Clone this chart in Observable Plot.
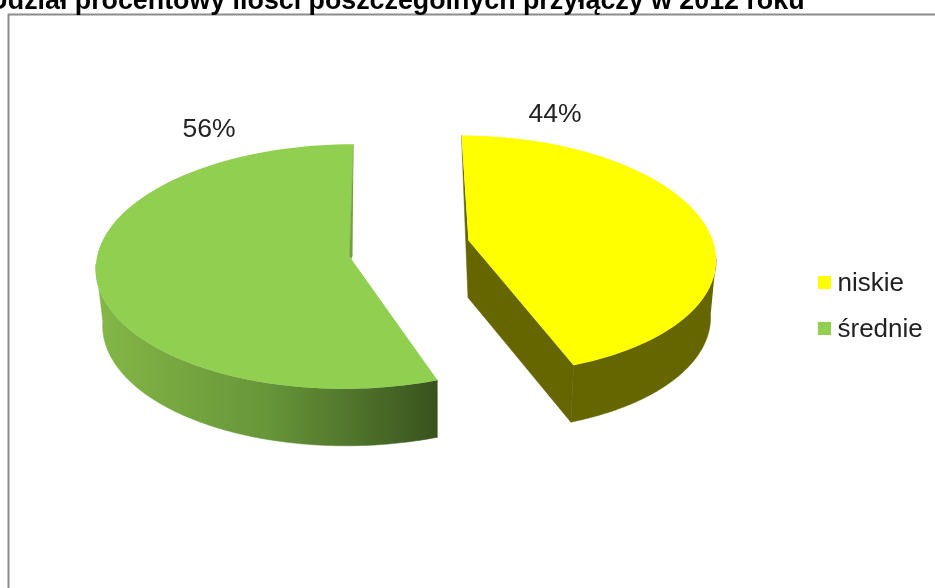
<!DOCTYPE html>
<html>
<head>
<meta charset="utf-8">
<style>
html,body{margin:0;padding:0;background:#fff;overflow:hidden}
svg{display:block;filter:blur(0.35px)}
</style>
<script src="https://cdn.jsdelivr.net/npm/d3@7"></script>
<script src="https://cdn.jsdelivr.net/npm/@observablehq/plot@0.6"></script>
</head>
<body>
<div id="chart"></div>
<script>
const title = "Udział procentowy ilości poszczególnych przyłączy w 2012 roku";
const categories = ["niskie", "średnie"];
const shares = [44, 56];
const colors = ["#FFFF00", "#90CF50"];

// Perspective projection of each exploded slice (layout, not data)
const view = {
  "niskie":  {cx: 472.8, cy: 254, rx: 242.5, ry: 119, a: 11.8, apex: [468, 240], sideFrom: 92, sideTo: 158.4},
  "średnie": {cx: 348.3, cy: 266, rx: 253, ry: 122.3, a: -4.7, apex: [349, 256], sideFrom: 158.4, sideTo: 271}
};
const depth = 57, shrink = 0.98, vanishX = 440;
const rad = d => d * Math.PI / 180;
const onRim = (g, deg) => [
  g.cx + g.rx * Math.sin(rad(deg)) - g.a * Math.cos(rad(deg)),
  g.cy - g.ry * Math.cos(rad(deg))
];
const drop = ([x, y]) => [vanishX + shrink * (x - vanishX), y + depth];
const arc = (g, a0, a1) => d3.range(0, 101).map(i => onRim(g, a0 + (a1 - a0) * i / 100));

// slice angles come from the shares
let acc = 0;
const slices = categories.map((c, i) => {
  const a0 = acc / 100 * 360; acc += shares[i];
  return {category: c, share: shares[i], a0, a1: acc / 100 * 360, g: view[c]};
});

const poly = (pts, extra = {}) => pts.map(p => ({x: p[0], y: p[1], ...extra}));
const face = (pts, fill) => Plot.line(poly(pts), {x: "x", y: "y", fill, stroke: fill, strokeWidth: 0.5});

const [yel, grn] = slices;
const yelTop = [yel.g.apex, ...arc(yel.g, yel.a0, yel.a1)];
const grnTop = [grn.g.apex, ...arc(grn.g, grn.a0, grn.a1)];

const yelSide = [...arc(yel.g, yel.g.sideFrom, yel.g.sideTo), ...arc(yel.g, yel.g.sideFrom, yel.g.sideTo).map(drop).reverse()];
const grnSide = [...arc(grn.g, grn.g.sideFrom, grn.g.sideTo), ...arc(grn.g, grn.g.sideFrom, grn.g.sideTo).map(drop).reverse()];

const yelStart = onRim(yel.g, yel.a0), yelEnd = onRim(yel.g, yel.a1);
const yelInner = [yelStart, drop(yel.g.apex), drop(yelEnd), yelEnd, yel.g.apex];
const grnStart = onRim(grn.g, grn.a1);
const grnInner = [grnStart, grn.g.apex, [grn.g.apex[0] + 2, grn.g.apex[1] + 2], [grnStart[0] - 1, grnStart[1] + 110]];

const legendX = 818, legendSw = 13;
const legendRows = categories.map((c, i) => ({category: c, y: 276 + i * 46}));

const gradient = () => {
  const s = d3.create("svg:defs");
  const g = s.append("linearGradient").attr("id", "sideGreen")
    .attr("gradientUnits", "userSpaceOnUse")
    .attr("x1", 100).attr("x2", 437).attr("y1", 0).attr("y2", 0);
  [[0, "#83B646"], [0.5, "#679539"], [0.8, "#4B6E29"], [1, "#39521D"]].forEach(([o, c]) =>
    g.append("stop").attr("offset", o).attr("stop-color", c));
  return s.node();
};

const chart = Plot.plot({
  width: 935, height: 588,
  margin: 0,
  style: {background: "#fff", overflow: "hidden"},
  x: {domain: [0, 935], range: [0, 935], axis: null},
  y: {domain: [0, 588], range: [0, 588], axis: null},
  color: {domain: categories, range: colors},
  marks: [
    gradient,
    Plot.ruleX([8], {y1: 14, y2: 588, stroke: "#8c8c8c", strokeWidth: 2}),
    Plot.ruleY([14], {x1: 8, x2: 935, stroke: "#8c8c8c", strokeWidth: 2}),
    face(yelInner, "#666600"),
    face(yelSide, "#666600"),
    face(grnSide, "url(#sideGreen)"),
    Plot.line(poly(yelTop, {category: yel.category}), {x: "x", y: "y", fill: "category", stroke: "none"}),
    Plot.line(poly(grnTop, {category: grn.category}), {x: "x", y: "y", fill: "category", stroke: "none"}),
    face(grnInner, "#739F3E"),
    Plot.text(slices, {
      x: d => d.category === "niskie" ? 554.5 : 208.5,
      y: d => d.category === "niskie" ? 113 : 128,
      text: d => d.share + "%",
      fontFamily: "Liberation Sans", fontSize: 26.5, fill: "#222", textAnchor: "middle", lineAnchor: "middle"
    }),
    Plot.rect(legendRows, {
      x1: () => legendX, x2: () => legendX + legendSw,
      y1: "y", y2: d => d.y + legendSw, fill: "category", inset: 0
    }),
    Plot.text(legendRows, {
      x: () => 837, y: d => d.y + 6.5, text: "category",
      fontFamily: "Liberation Sans", fontSize: 26, fill: "#222", textAnchor: "start", lineAnchor: "middle"
    }),
    Plot.text([title], {
      x: () => 804, y: () => 0, text: d => d,
      fontFamily: "Liberation Sans", fontWeight: "bold", fontSize: 26.8, fill: "#000", textAnchor: "end", lineAnchor: "middle"
    })
  ]
});
document.getElementById("chart").append(chart);
</script>
</body>
</html>
